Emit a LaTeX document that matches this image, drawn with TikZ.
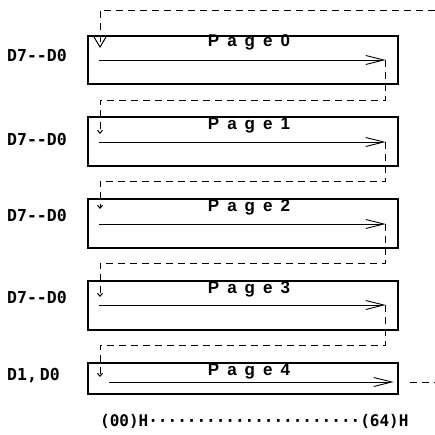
\documentclass[tikz,border=0pt]{standalone}
\usepackage{fontspec}
\setmainfont{Liberation Sans}
\setmonofont{DejaVu Sans Mono}
\usepackage{tikz}
\usetikzlibrary{arrows.meta,calc}
\newcommand{\pgsp}{\hspace{8pt}}

\begin{document}
\begin{tikzpicture}[x=1pt, y=-1pt,
    pagebox/.style={draw, line width=1.2pt, minimum width=310pt, inner sep=0pt},
    pagelbl/.style={font=\bfseries\fontsize{17}{17}\selectfont, anchor=base, inner sep=0pt},
    sidelbl/.style={font=\ttfamily\bfseries\fontsize{16.5}{16.5}\selectfont, anchor=west, inner sep=0pt},
    flow/.style={-{Straight Barb[length=18pt, width=9pt]}, line width=0.9pt},
    ret/.style={dash pattern=on 7pt off 5pt, line width=1pt, -{Straight Barb[length=3pt, width=5pt]}}
]
\useasboundingbox (0,0) rectangle (435,434);

% page boxes
\node[pagebox, minimum height=48pt] (p0) at (243,60) {};
\node[pagebox, minimum height=49pt] (p1) at (243,141.5) {};
\node[pagebox, minimum height=49pt] (p2) at (243,223.5) {};
\node[pagebox, minimum height=49pt] (p3) at (243,305.5) {};
\node[pagebox, minimum height=31pt] (p4) at (243,378.5) {};

\node[pagelbl] (l0) at ($(p0.north)+(6,11.5)$) {P\pgsp a\pgsp g\pgsp e\pgsp 0};
\node[pagelbl] (l1) at ($(p1.north)+(6,13)$) {P\pgsp a\pgsp g\pgsp e\pgsp 1};
\node[pagelbl] (l2) at ($(p2.north)+(6,13)$) {P\pgsp a\pgsp g\pgsp e\pgsp 2};
\node[pagelbl] (l3) at ($(p3.north)+(6,13)$) {P\pgsp a\pgsp g\pgsp e\pgsp 3};
\node[pagelbl] (l4) at ($(p4.north)+(6,13)$) {P\pgsp a\pgsp g\pgsp e\pgsp 4};

% data bits
\node[sidelbl] (d0) at (7,55) {D7--D0};
\node[sidelbl] (d1) at (7,139) {D7--D0};
\node[sidelbl] (d2) at (7,215) {D7--D0};
\node[sidelbl] (d3) at (7,297) {D7--D0};
\node[sidelbl] (d4) at (7,376) {D1,\hspace{3pt}D0};

% column range
\node[sidelbl, font=\ttfamily\bfseries\fontsize{16}{16}\selectfont] (cols) at (100,421) {(00)H······················(64)H};

% scan arrows
\coordinate (s0) at ($(p0.west)+(12,0)$);
\coordinate (e0) at ($(p0.east)+(-13,0)$);
\coordinate (s1) at ($(p1.west)+(12,0.5)$);
\coordinate (e1) at ($(p1.east)+(-13,0.5)$);
\coordinate (s2) at ($(p2.west)+(12,0.5)$);
\coordinate (e2) at ($(p2.east)+(-13,0.5)$);
\coordinate (s3) at ($(p3.west)+(12,-0.5)$);
\coordinate (e3) at ($(p3.east)+(-13,-0.5)$);
\coordinate (s4) at ($(p4.west)+(22,3.5)$);
\coordinate (e4) at ($(p4.east)+(-5,3.5)$);

\coordinate (t0) at (100,48);
\coordinate (t1) at (100,134);
\coordinate (t2) at (100,209);
\coordinate (t3) at (100,297);
\coordinate (t4) at (100,377);
\coordinate (in) at (435,10);
\coordinate (out) at (435,382);

\draw[flow] (s0) -- (e0);
\draw[flow] (s1) -- (e1);
\draw[flow] (s2) -- (e2);
\draw[flow] (s3) -- (e3);
\draw[flow] (s4) -- (e4);

% jumps to next page
\draw[ret, -{Straight Barb[length=10pt, width=12pt]}] (in) -| (t0);
\draw[ret] (e0) -- ++(0,40) -| (t1);
\draw[ret] (e1) -- ++(0,39) -| (t2);
\draw[ret] (e2) -- ++(0,39) -| (t3);
\draw[ret] (e3) -- ++(0,40) -| (t4);
\draw[ret, -, shorten <=16pt] (e4) -- (out);
\end{tikzpicture}
\end{document}
